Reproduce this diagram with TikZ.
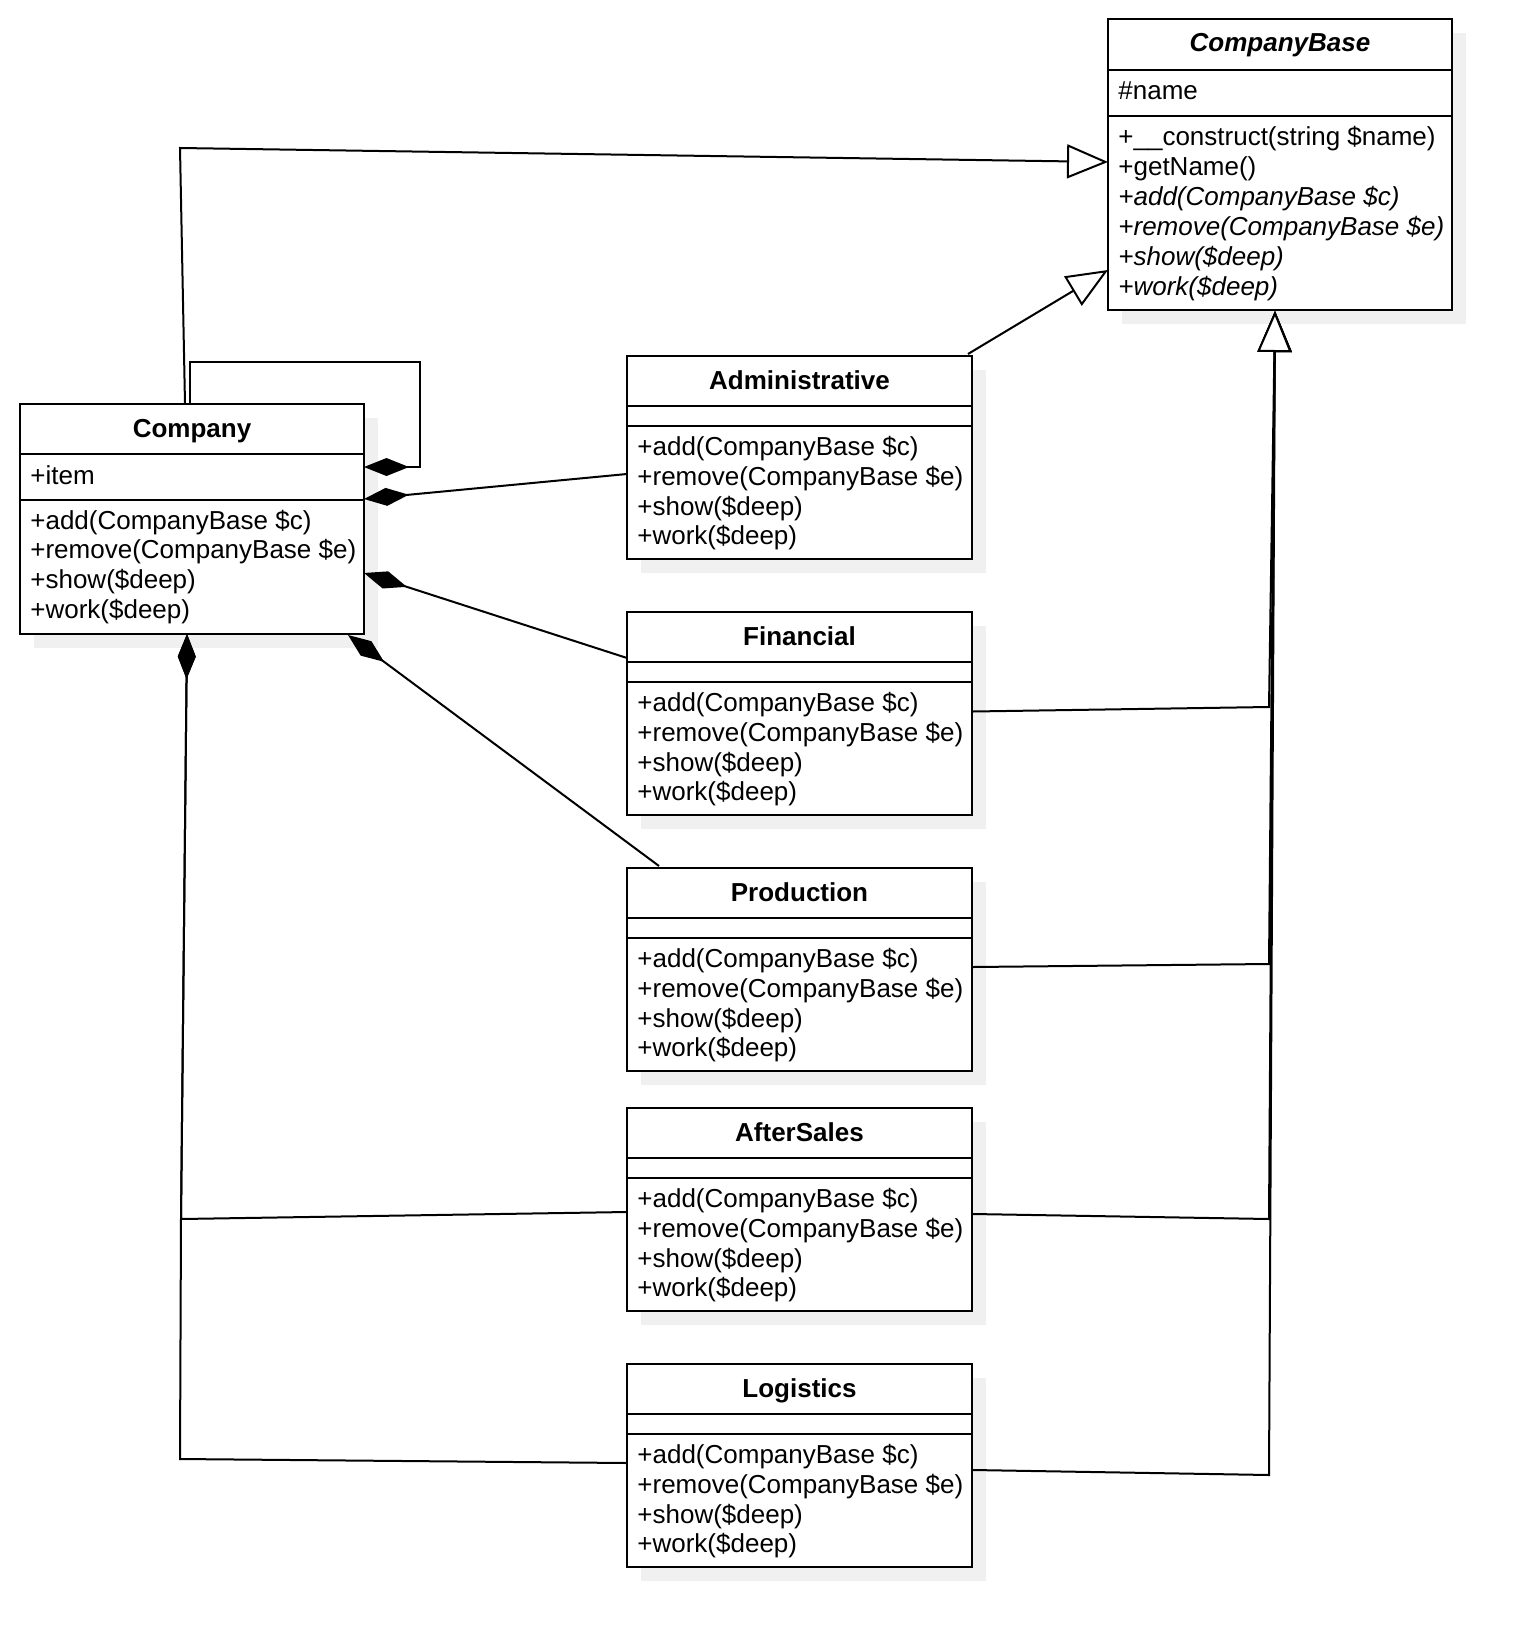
\documentclass[tikz,border=0pt]{standalone}
\usepackage{fontspec}
\setmainfont{Liberation Sans}
\usetikzlibrary{arrows.meta,calc,fit}
\definecolor{shadowc}{RGB}{240,240,240}
\tikzset{
  boxst/.style={draw=black, line width=1.2pt, fill=white, inner sep=0pt, outer sep=0pt},
  divline/.style={line width=1.2pt},
  txt/.style={anchor=base west, inner sep=0pt, font=\fontsize{13pt}{15pt}\selectfont},
  ttl/.style={anchor=base, inner sep=0pt, font=\fontsize{13pt}{15pt}\selectfont\bfseries},
  conn/.style={line width=1pt, line join=miter},
  gen/.style={conn, -{Triangle[length=20.5pt,width=17pt,fill=white]}},
  compo/.style={conn, {Diamond[length=22.5pt,width=9pt]}-},
}
% name, x1, y1, x2, y2, divider1, divider2, title
\newcommand\umlbox[8]{%
  \fill[shadowc] ({#2+14},{#3+14}) rectangle ({#4+14},{#5+14});
  \node[boxst, fit={(#2,#3) (#4,#5)}] (#1) {};
  \draw[divline] (#2,#6) -- (#4,#6) (#2,#7) -- (#4,#7);
  \node[ttl] (#1t) at ({(#2+#4)/2},{#3+33}) {#8};
}
% name prefix, x, first baseline
\newcommand\stdmeths[3]{%
  \node[txt] (#1m1) at (#2,{#3}) {+add(CompanyBase \$c)};
  \node[txt] (#1m2) at (#2,{#3+29.8}) {+remove(CompanyBase \$e)};
  \node[txt] (#1m3) at (#2,{#3+59.6}) {+show(\$deep)};
  \node[txt] (#1m4) at (#2,{#3+89.4}) {+work(\$deep)};
}
\begin{document}
\begin{tikzpicture}[x=0.5pt,y=-0.5pt]
\useasboundingbox (0,0) rectangle (1530,1648);

% ---------- classes ----------
\umlbox{cb}{1108}{19}{1452}{310}{70}{116}{\itshape CompanyBase}
\node[txt] (cba) at (1118,100) {\#name};
\node[txt] (cbm1) at (1118,146) {+\_\_construct(string \$name)};
\node[txt] (cbm2) at (1118,175.8) {+getName()};
\node[txt] (cbm3) at (1118,205.6) {\itshape +add(CompanyBase \$c)};
\node[txt] (cbm4) at (1118,235.4) {\itshape +remove(CompanyBase \$e)};
\node[txt] (cbm5) at (1118,265.2) {\itshape +show(\$deep)};
\node[txt] (cbm6) at (1118,295) {\itshape +work(\$deep)};

\umlbox{co}{20}{404}{364}{634}{454}{500}{Company}
\node[txt] (coa) at (30,484) {+item};
\stdmeths{co}{30}{529}

\umlbox{adm}{627}{356}{972}{559}{406}{426}{Administrative}
\stdmeths{adm}{637}{455.5}

\umlbox{fin}{627}{612}{972}{815}{662}{682}{Financial}
\stdmeths{fin}{637}{711.5}

\umlbox{prod}{627}{868}{972}{1071}{918}{938}{Production}
\stdmeths{prod}{637}{967.5}

\umlbox{as}{627}{1108}{972}{1311}{1158}{1178}{AfterSales}
\stdmeths{as}{637}{1207.5}

\umlbox{lg}{627}{1364}{972}{1567}{1414}{1434}{Logistics}
\stdmeths{lg}{637}{1463.5}

% ---------- connectors ----------
% Company -> CompanyBase (generalization)
\coordinate (c1a) at (180,148);
\draw[gen] ($(co.north)+(-7,0)$) -- (c1a) -- ($(cb.west)+(0,-2.5)$);

% Administrative -> CompanyBase
\draw[gen] ($(adm.north east)+(-4,-2)$) -- ($(cb.south west)+(0,-40)$);

% right-hand generalizations
\coordinate (gtip) at ($(cb.south)+(-5,1)$);
\coordinate (rfin) at (1269,707);
\coordinate (rprod) at (1269,964);
\coordinate (ras) at (1269,1219);
\coordinate (rlg) at (1269,1475);
\draw[gen] ($(lg.east)+(1,4.5)$) -- (rlg) -- (gtip);
\draw[gen] ($(as.east)+(1,4.5)$) -- (ras) -- (gtip);
\draw[gen] ($(prod.east)+(1,-2.5)$) -- (rprod) -- (gtip);
\draw[gen] ($(fin.east)+(1,-2)$) -- (rfin) -- (gtip);

% self composition on Company
\coordinate (sl1) at (420,467);
\coordinate (sl2) at (420,362);
\coordinate (sl3) at (190,362);
\draw[compo] ($(co.east)+(0,-52)$) -- (sl1) -- (sl2) -- (sl3) -- (sl3 |- co.north);

% compositions towards Company
\draw[compo] ($(co.east)+(0,-20)$) -- ($(adm.west)+(0,16.5)$);
\draw[compo] ($(co.east)+(0,54)$) -- ($(fin.west)+(0,-55.5)$);
\draw[compo] ($(co.south east)+(-16,1)$) -- ($(prod.north west)+(32,-2)$);

\coordinate (asb) at (181,1219);
\coordinate (lgb) at (180,1459);
\draw[compo] ($(co.south)+(-5,0)$) -- (asb) -- (lgb) -- ($(lg.west)+(0,-2.5)$);
\draw[compo] ($(co.south)+(-5,0)$) -- (asb) -- ($(as.west)+(0,2.5)$);
\end{tikzpicture}
\end{document}
